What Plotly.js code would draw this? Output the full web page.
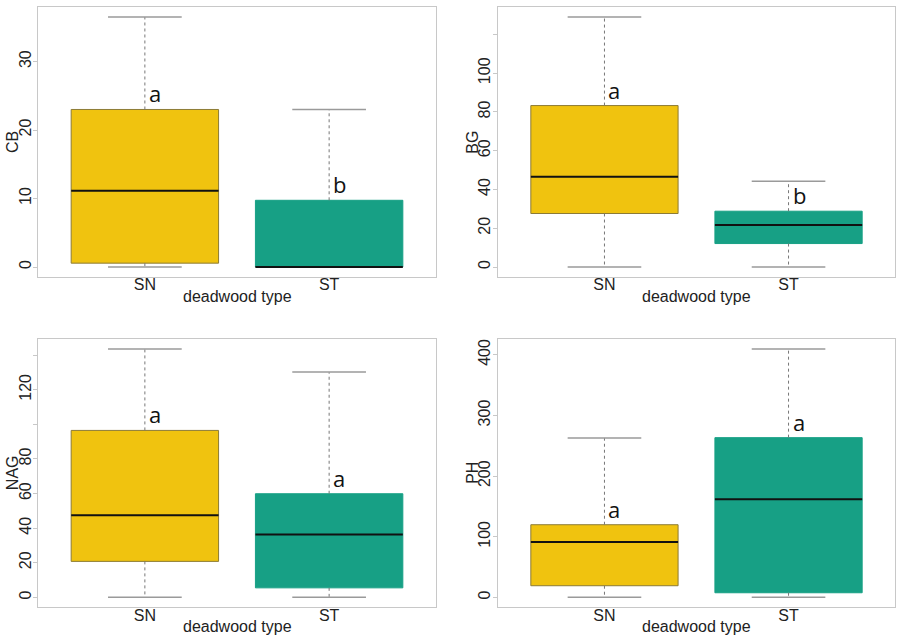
<!DOCTYPE html>
<html>
<head>
<meta charset="utf-8">
<script src="https://cdn.plot.ly/plotly-3.0.1.min.js"></script>
<style>html,body{margin:0;padding:0;background:#fff;}#chart{width:897px;height:640px;}</style>
</head>
<body>
<div id="chart"></div>
<script>
// ---- data ----
var categories = ['SN', 'ST'];
var xLabel = 'deadwood type';

var cbLower  = [0, 0];
var cbQ1     = [0.56, 0];
var cbMedian = [11.15, 0];
var cbQ3     = [23.0, 9.74];
var cbUpper  = [36.5, 23.0];
var cbLetters = ['a', 'b'];
var cbTicks = [0, 10, 20, 30];
var cbTickText = ['0', '10', '20', '30'];

var bgLower  = [0, 0];
var bgQ1     = [27.6, 12.1];
var bgMedian = [46.6, 21.7];
var bgQ3     = [83.3, 28.8];
var bgUpper  = [129.0, 44.2];
var bgLetters = ['a', 'b'];
var bgTicks = [0, 20, 40, 60, 80, 100, 120];
var bgTickText = ['0', '20', '40', '60', '80', '100', ''];

var nagLower  = [0, 0];
var nagQ1     = [20.8, 5.5];
var nagMedian = [47.4, 36.4];
var nagQ3     = [96.5, 59.9];
var nagUpper  = [143.6, 130.2];
var nagLetters = ['a', 'a'];
var nagTicks = [0, 20, 40, 60, 80, 100, 120, 140];
var nagTickText = ['0', '20', '40', '60', '80', '', '120', ''];

var phLower  = [0, 0];
var phQ1     = [19.2, 7.6];
var phMedian = [91.3, 161.7];
var phQ3     = [119.8, 263.4];
var phUpper  = [262.9, 409.7];
var phLetters = ['a', 'a'];
var phTicks = [0, 100, 200, 300, 400];
var phTickText = ['0', '100', '200', '300', '400'];

// ---- styles ----
var fillColors = ['#F0C30F', '#17A085'];
var borderColors = ['#8C7B36', '#17A085'];
var W = 897, H = 640;
var FS = 16;

var panels = [
  {name: 'CB',  lo: cbLower,  q1: cbQ1,  med: cbMedian,  q3: cbQ3,  up: cbUpper,  let: cbLetters,  tv: cbTicks,  tt: cbTickText,
   xd: [38, 436], yd: [7, 277]},
  {name: 'BG',  lo: bgLower,  q1: bgQ1,  med: bgMedian,  q3: bgQ3,  up: bgUpper,  let: bgLetters,  tv: bgTicks,  tt: bgTickText,
   xd: [497.7, 895.3], yd: [7, 277]},
  {name: 'NAG', lo: nagLower, q1: nagQ1, med: nagMedian, q3: nagQ3, up: nagUpper, let: nagLetters, tv: nagTicks, tt: nagTickText,
   xd: [38, 436], yd: [339, 607.3]},
  {name: 'PH',  lo: phLower,  q1: phQ1,  med: phMedian,  q3: phQ3,  up: phUpper,  let: phLetters,  tv: phTicks,  tt: phTickText,
   xd: [497.7, 895.3], yd: [339, 607.3]}
];

var traces = [];
var annotations = [];
var layout = {
  width: W, height: H,
  margin: {l: 0, r: 0, t: 0, b: 0},
  paper_bgcolor: '#ffffff', plot_bgcolor: '#ffffff',
  showlegend: false,
  font: {family: '"Liberation Sans", Arial, sans-serif', size: FS, color: '#222222'}
};

panels.forEach(function (p, k) {
  var sfx = k === 0 ? '' : String(k + 1);
  var xa = 'x' + sfx, ya = 'y' + sfx;
  var xs = categories.map(function (c, i) { return i + 1; });

  // box body
  traces.push({
    type: 'bar', xaxis: xa, yaxis: ya,
    x: xs,
    base: p.q1,
    y: p.q3.map(function (v, i) { return v - p.q1[i]; }),
    width: 0.8,
    marker: {color: fillColors, line: {color: borderColors, width: 1}},
    hoverinfo: 'skip'
  });

  var wx = [], wy = [], cx = [], cy = [], mx = [], my = [];
  xs.forEach(function (x, i) {
    wx.push(x, x, null, x, x, null);
    wy.push(p.q3[i], p.up[i], null, p.q1[i], p.lo[i], null);
    cx.push(x - 0.2, x + 0.2, null, x - 0.2, x + 0.2, null);
    cy.push(p.up[i], p.up[i], null, p.lo[i], p.lo[i], null);
    mx.push(x - 0.4, x + 0.4, null);
    my.push(p.med[i], p.med[i], null);
  });
  traces.push({type: 'scatter', mode: 'lines', xaxis: xa, yaxis: ya, x: wx, y: wy,
    line: {color: '#777777', width: 1, dash: 'dot'}, hoverinfo: 'skip'});
  traces.push({type: 'scatter', mode: 'lines', xaxis: xa, yaxis: ya, x: cx, y: cy,
    line: {color: '#9a9a9a', width: 1.5}, hoverinfo: 'skip'});
  traces.push({type: 'scatter', mode: 'lines', xaxis: xa, yaxis: ya, x: mx, y: my,
    line: {color: '#111111', width: 2}, hoverinfo: 'skip'});

  // y range as in R: data range extended by 4%
  var ymin = Math.min.apply(null, p.lo), ymax = Math.max.apply(null, p.up);
  var ext = (ymax - ymin) * 0.04;

  layout['xaxis' + sfx] = {
    domain: [p.xd[0] / W, p.xd[1] / W],
    anchor: ya,
    range: [0.42, 2.58],
    tickvals: xs, ticktext: categories,
    ticks: '', showgrid: false, zeroline: false,
    ticklabelstandoff: -7,
    showline: true, mirror: true, linecolor: '#c8c8c8', linewidth: 1,
    tickfont: {size: FS, color: '#222222'}
  };
  layout['yaxis' + sfx] = {
    domain: [1 - p.yd[1] / H, 1 - p.yd[0] / H],
    anchor: xa,
    range: [ymin - ext, ymax + ext],
    tickvals: p.tv, ticktext: p.tt,
    ticks: 'outside', ticklen: 4, tickcolor: '#c8c8c8', tickwidth: 1,
    tickangle: -90,
    ticklabelstandoff: -4,
    showgrid: false, zeroline: false,
    showline: true, mirror: true, linecolor: '#c8c8c8', linewidth: 1,
    tickfont: {size: FS, color: '#222222'}
  };

  // significance letters
  xs.forEach(function (x, i) {
    annotations.push({
      xref: xa, yref: ya, x: x, y: p.q3[i],
      text: p.let[i], showarrow: false,
      xanchor: 'left', yanchor: 'bottom', xshift: 2, yshift: -1,
      font: {family: '"Open Sans", sans-serif', size: 22, color: '#111111'}
    });
  });

  // axis titles
  annotations.push({
    xref: 'paper', yref: 'paper',
    x: (p.xd[0] - 26) / W, y: 1 - ((p.yd[0] + p.yd[1]) / 2) / H,
    text: p.name, textangle: -90, showarrow: false,
    xanchor: 'center', yanchor: 'middle',
    font: {size: FS, color: '#222222'}
  });
  annotations.push({
    xref: 'paper', yref: 'paper',
    x: ((p.xd[0] + p.xd[1]) / 2) / W, y: 1 - (p.yd[1] + 19.5) / H,
    text: xLabel, showarrow: false,
    xanchor: 'center', yanchor: 'middle',
    font: {size: FS, color: '#222222'}
  });
});

layout.annotations = annotations;
Plotly.newPlot('chart', traces, layout, {staticPlot: true, displayModeBar: false});
</script>
</body>
</html>
